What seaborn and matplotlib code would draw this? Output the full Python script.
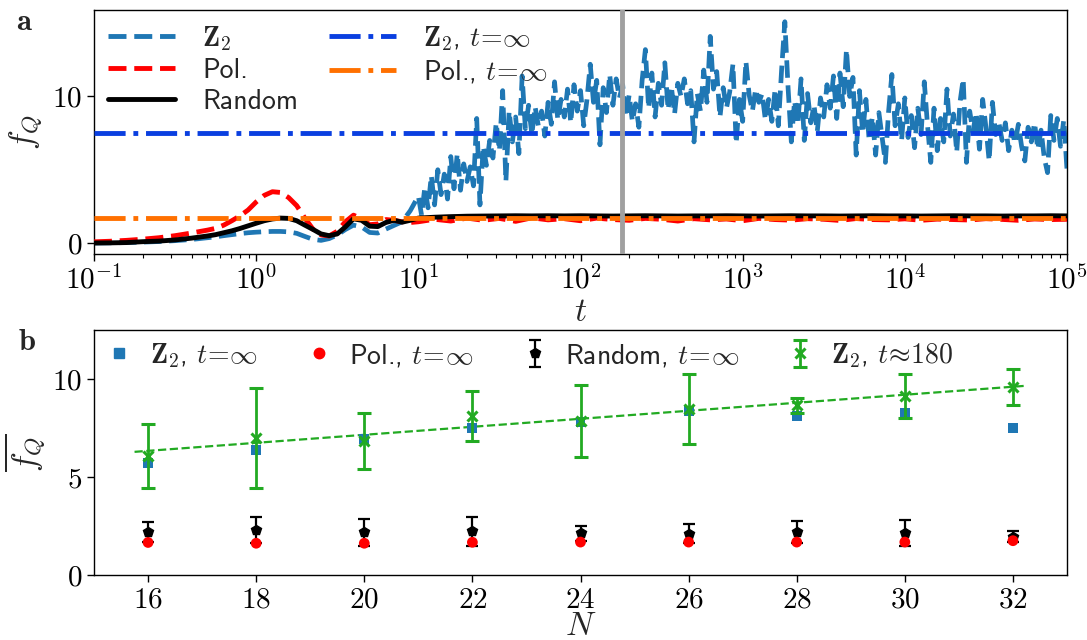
import numpy as np
import pandas as pd
import matplotlib
matplotlib.use("Agg")
import matplotlib.pyplot as plt
import seaborn as sns
from matplotlib.ticker import FuncFormatter, FixedLocator, LogLocator, NullFormatter

# ---------------- panel a: f_Q(t) traces ----------------
# early-time grid (log10 t) shared by the three smooth traces
log_t_early = [-1.0, -0.9, -0.8, -0.7, -0.6, -0.5, -0.4, -0.3, -0.25, -0.2, -0.15,
               -0.1, -0.05, 0.0, 0.05, 0.1, 0.15, 0.2, 0.25, 0.3, 0.35, 0.4, 0.45,
               0.5, 0.55, 0.6, 0.65, 0.7, 0.75, 0.8, 0.85, 0.9, 0.95]
fq_z2_early = [0.00, 0.01, 0.03, 0.06, 0.10, 0.16, 0.24, 0.36, 0.42, 0.50, 0.57,
               0.64, 0.70, 0.74, 0.77, 0.79, 0.79, 0.76, 0.66, 0.45, 0.25, 0.18, 0.30,
               0.55, 0.92, 1.22, 1.10, 0.72, 0.68, 0.95, 1.20, 1.45, 2.20]
fq_pol_early = [0.08, 0.12, 0.18, 0.26, 0.36, 0.50, 0.68, 0.88, 1.00, 1.22, 1.52,
                1.85, 2.25, 2.80, 3.25, 3.50, 3.45, 3.10, 2.55, 1.70, 0.95, 0.55, 0.48,
                0.80, 1.45, 1.90, 1.65, 1.25, 1.30, 1.60, 1.55, 1.45, 1.40]
fq_rand_early = [0.00, 0.01, 0.03, 0.09, 0.13, 0.21, 0.33, 0.48, 0.57, 0.70, 0.83,
                 0.99, 1.17, 1.35, 1.52, 1.64, 1.70, 1.68, 1.52, 1.22, 0.93, 0.62, 0.50,
                 0.62, 1.10, 1.65, 1.55, 1.15, 1.12, 1.40, 1.55, 1.42, 1.55]

# Z2 trace after t = 10, sampled every 0.02 in log10 t (1.00 ... 5.00)
log_t_z2_late = np.round(np.arange(1.0, 5.0001, 0.02), 2)
fq_z2_late = [
    3.2, 1.9, 3.8, 2.4, 4.6, 2.6, 5.0, 3.3, 4.7, 3.0,
    5.9, 3.7, 6.1, 3.6, 5.4, 4.2, 5.2, 3.9, 8.5, 2.6,
    6.6, 5.3, 7.0, 5.8, 8.2, 6.3, 10.4, 4.2, 9.0, 6.9,
    8.6, 6.1, 11.4, 7.8, 9.4, 7.4, 9.3, 8.0, 9.0, 7.3,
    9.6, 8.1, 11.0, 8.4, 9.8, 8.6, 10.5, 8.2, 10.8, 9.0,
    10.4, 8.0, 9.8, 12.2, 9.6, 11.1, 6.7, 10.6, 8.9, 11.5,
    9.4, 11.2, 9.9, 10.8, 8.6, 10.1, 8.3, 9.5, 7.9, 11.1,
    13.2, 9.2, 11.6, 8.6, 10.9, 9.4, 12.3, 9.1, 10.7, 8.8,
    10.9, 10.0, 11.2, 9.5, 10.4, 6.9, 10.2, 9.0, 11.8, 9.6,
    14.1, 10.5, 11.7, 8.6, 10.6, 9.2, 10.3, 12.2, 6.8, 9.8,
    8.3, 12.4, 10.1, 9.0, 10.5, 9.6, 10.2, 8.4, 9.8, 8.3,
    10.5, 8.0, 11.8, 15.1, 10.6, 6.9, 9.7, 8.1, 11.2, 7.0,
    10.2, 8.2, 9.4, 7.6, 9.9, 8.6, 10.8, 9.2, 11.4, 8.5,
    11.6, 9.3, 13.2, 10.0, 11.3, 6.0, 10.4, 7.5, 9.8, 7.0,
    8.6, 6.0, 8.9, 7.2, 5.5, 9.0, 11.5, 8.0, 9.5, 7.0,
    9.9, 7.2, 8.7, 6.5, 9.2, 7.4, 11.0, 8.0, 5.5, 9.2,
    6.3, 8.5, 6.9, 10.5, 7.3, 8.8, 6.2, 9.6, 11.2, 5.5,
    9.0, 7.6, 8.9, 6.4, 9.8, 7.9, 5.6, 9.6, 7.4, 8.2,
    7.0, 8.2, 6.3, 7.7, 6.8, 8.1, 6.6, 5.6, 7.9, 6.9,
    8.2, 6.4, 7.7, 5.8, 4.8, 8.7, 7.0, 8.5, 6.6, 8.4,
    5.0,
]

# Pol. and Random traces after t = 10, sampled every 0.1 in log10 t
log_t_flat_late = np.round(np.arange(1.0, 5.0001, 0.1), 1)
fq_pol_late = [1.45, 1.62, 1.50, 1.70, 1.55, 1.68, 1.48, 1.72, 1.58, 1.66, 1.52,
               1.70, 1.60, 1.55, 1.68, 1.62, 1.50, 1.66, 1.58, 1.64, 1.52, 1.68,
               1.60, 1.56, 1.66, 1.62, 1.54, 1.67, 1.60, 1.58, 1.65, 1.55, 1.63,
               1.60, 1.57, 1.66, 1.61, 1.55, 1.64, 1.60, 1.62]
fq_rand_late = [1.70, 1.76, 1.80, 1.83, 1.84, 1.85, 1.86, 1.85, 1.86, 1.85, 1.86,
                1.85, 1.84, 1.85, 1.86, 1.85, 1.84, 1.85, 1.85, 1.86, 1.85, 1.84,
                1.85, 1.86, 1.85, 1.85, 1.84, 1.85, 1.86, 1.85, 1.85, 1.84, 1.85,
                1.86, 1.85, 1.85, 1.84, 1.85, 1.85, 1.86, 1.85]

fq_z2_t_inf = 7.50
fq_pol_t_inf = 1.68
t_snapshot = 180

# ---------------- panel b: long-time averages vs N ----------------
N = [16, 18, 20, 22, 24, 26, 28, 30, 32]
z2_inf = [5.70, 6.38, 6.94, 7.52, 7.82, 8.38, 8.11, 8.28, 7.50]
pol_inf = [1.66, 1.62, 1.62, 1.67, 1.68, 1.68, 1.68, 1.68, 1.75]
rand_inf = [2.19, 2.30, 2.18, 2.23, 2.13, 2.11, 2.21, 2.16, 1.96]
rand_inf_err = [0.51, 0.67, 0.69, 0.74, 0.39, 0.48, 0.56, 0.67, 0.27]
z2_180 = [6.07, 6.97, 6.85, 8.11, 7.87, 8.48, 8.67, 9.13, 9.58]
z2_180_err = [1.61, 2.55, 1.42, 1.29, 1.83, 1.78, 0.38, 1.13, 0.93]

# ---------------- style ----------------
sns.set_theme(style="ticks")
plt.rcParams.update({
    "font.family": ["cmss10", "DejaVu Sans"],
    "mathtext.fontset": "cm",
    "axes.unicode_minus": False,
    "axes.edgecolor": "black",
    "axes.linewidth": 1.0,
    "xtick.color": "black",
    "ytick.color": "black",
    "xtick.labelsize": 21,
    "ytick.labelsize": 21,
    "xtick.major.size": 5,
    "ytick.major.size": 5,
    "xtick.minor.size": 3,
    "xtick.major.width": 1.0,
    "ytick.major.width": 1.0,
    "xtick.minor.width": 0.8,
})

C_Z2 = "#1f77b4"
C_POL = "#ff0000"
C_Z2_INF = "#0a3fe0"
C_POL_INF = "#ff7000"
C_GREEN = "#22aa22"

fig = plt.figure(figsize=(10.87, 6.40), dpi=100)
W, H = 1087, 640
ax_a = fig.add_axes([94 / W, 1 - 254 / H, (1067 - 94) / W, (254 - 10) / H])
ax_b = fig.add_axes([94 / W, 1 - 575 / H, (1067 - 94) / W, (575 - 330) / H])

# ---- panel a ----
ax_a.set_xscale("log")

def trace(log_early, v_early, log_late, v_late):
    lt = np.concatenate([np.asarray(log_early, float), np.asarray(log_late, float)])
    v = np.concatenate([np.asarray(v_early, float), np.asarray(v_late, float)])
    return pd.DataFrame({"t": 10.0 ** lt, "fq": v})

df_z2 = trace(log_t_early, fq_z2_early, log_t_z2_late, fq_z2_late)
df_pol = trace(log_t_early, fq_pol_early, log_t_flat_late, fq_pol_late)
df_rand = trace(log_t_early, fq_rand_early, log_t_flat_late, fq_rand_late)

sns.lineplot(data=df_z2, x="t", y="fq", ax=ax_a, color=C_Z2, lw=3.4,
             linestyle="--", estimator=None, sort=False, zorder=2)
sns.lineplot(data=df_pol, x="t", y="fq", ax=ax_a, color=C_POL, lw=3.5,
             linestyle="--", estimator=None, sort=False, zorder=3)
sns.lineplot(data=df_rand, x="t", y="fq", ax=ax_a, color="black", lw=3.5,
             linestyle="-", estimator=None, sort=False, zorder=3)
ax_a.axhline(fq_z2_t_inf, color=C_Z2_INF, lw=3.5, ls="-.", zorder=4)
ax_a.axhline(fq_pol_t_inf, color=C_POL_INF, lw=3.5, ls="-.", zorder=4)
ax_a.axvline(t_snapshot, color="#a0a0a0", lw=3.5, zorder=5)

ax_a.set_xlim(0.1, 1e5)
ax_a.set_ylim(-0.75, 15.9)
ax_a.xaxis.set_major_locator(LogLocator(base=10, numticks=10))
ax_a.xaxis.set_minor_locator(LogLocator(base=10, subs=np.arange(2, 10), numticks=100))
ax_a.xaxis.set_minor_formatter(NullFormatter())
ax_a.xaxis.set_major_formatter(FuncFormatter(lambda v, p: r"$10^{%d}$" % round(np.log10(v))))
ax_a.yaxis.set_major_locator(FixedLocator([0, 10]))
ax_a.yaxis.set_major_formatter(FuncFormatter(lambda v, p: r"$%d$" % v))
ax_a.set_xlabel(r"$t$", fontsize=24, labelpad=2)
ax_a.set_ylabel(r"$f_Q$", fontsize=24, labelpad=6)

lines_a = [
    plt.Line2D([], [], color=C_Z2, lw=3.5, ls="--"),
    plt.Line2D([], [], color=C_POL, lw=3.5, ls="--"),
    plt.Line2D([], [], color="black", lw=3.5, ls="-"),
    plt.Line2D([], [], color=C_Z2_INF, lw=3.5, ls="-."),
    plt.Line2D([], [], color=C_POL_INF, lw=3.5, ls="-."),
]
labels_a = [r"$\mathbf{Z}_2$", "Pol.", "Random",
            r"$\mathbf{Z}_2$, $t\!=\!\infty$", r"Pol., $t\!=\!\infty$"]
ax_a.legend(lines_a, labels_a, ncol=2, loc="upper left", frameon=False,
            prop={"family": ["cmss10", "DejaVu Sans"], "size": 20},
            handlelength=2.4, handletextpad=1.0, columnspacing=1.1,
            labelspacing=0.2, borderaxespad=0.25, borderpad=0.25)

# ---- panel b ----
df_b = pd.DataFrame({"N": N, "z2_inf": z2_inf, "pol_inf": pol_inf})
sns.scatterplot(data=df_b, x="N", y="z2_inf", ax=ax_b, marker="s", s=50,
                color=C_Z2, edgecolor="none", zorder=3, legend=False)
h_rand = ax_b.errorbar(N, rand_inf, yerr=rand_inf_err, fmt="p", color="black",
                       ms=7, capsize=4, elinewidth=1.6, capthick=1.6, zorder=3)
sns.scatterplot(data=df_b, x="N", y="pol_inf", ax=ax_b, marker="o", s=60,
                color=C_POL, edgecolor="none", zorder=4, legend=False)
h_z2180 = ax_b.errorbar(N, z2_180, yerr=z2_180_err, fmt="x", color=C_GREEN,
                        ms=7, mew=2.2, capsize=5, elinewidth=2.0, capthick=2.0, zorder=5)

# linear fit to the t~180 points
slope, intercept = np.polyfit(N, z2_180, 1)
n_fit = np.array([15.75, 32.25])
ax_b.plot(n_fit, slope * n_fit + intercept, color=C_GREEN, lw=1.6, ls="--", zorder=2)

ax_b.set_xlim(15, 33)
ax_b.set_ylim(0, 12.5)
ax_b.xaxis.set_major_locator(FixedLocator(N))
ax_b.xaxis.set_major_formatter(FuncFormatter(lambda v, p: r"$%d$" % v))
ax_b.yaxis.set_major_locator(FixedLocator([0, 5, 10]))
ax_b.yaxis.set_major_formatter(FuncFormatter(lambda v, p: r"$%d$" % v))
ax_b.set_xlabel(r"$N$", fontsize=24, labelpad=-1)
ax_b.set_ylabel(r"$\overline{f_Q}$", fontsize=24, labelpad=4)

h_sq = plt.Line2D([], [], color=C_Z2, marker="s", ls="none", ms=7)
h_ci = plt.Line2D([], [], color=C_POL, marker="o", ls="none", ms=7.5)
ax_b.legend([h_sq, h_ci, h_rand, h_z2180],
            [r"$\mathbf{Z}_2$, $t\!=\!\infty$", r"Pol., $t\!=\!\infty$",
             r"Random, $t\!=\!\infty$", r"$\mathbf{Z}_2$, $t\!\approx\!180$"],
            ncol=4, loc="upper left", frameon=False,
            prop={"family": ["cmss10", "DejaVu Sans"], "size": 20},
            handlelength=1.0, handletextpad=0.6, columnspacing=1.7,
            borderaxespad=0.3, borderpad=0.1)

fig.text(16 / W, 1 - 30 / H, r"$\mathbf{a}$", fontsize=22, va="baseline", ha="left")
fig.text(18 / W, 1 - 350 / H, r"$\mathbf{b}$", fontsize=22, va="baseline", ha="left")

fig.savefig("out.png", dpi=100)
